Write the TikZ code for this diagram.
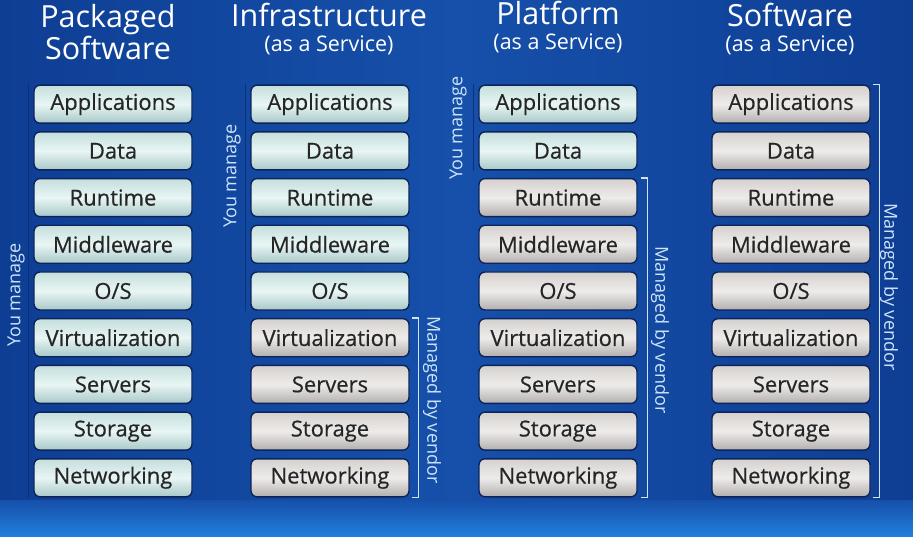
\documentclass[tikz,border=0pt]{standalone}
\usepackage{fontspec}
\setmainfont{Open Sans}
\newfontfamily\boxfont{Open Sans}[FakeBold=0.5]
\definecolor{bgblue}{RGB}{22,80,170}
\definecolor{bgdark}{RGB}{14,62,148}
\definecolor{striplight}{RGB}{34,128,222}
\definecolor{boxline}{RGB}{12,36,88}
\definecolor{usertop}{RGB}{196,222,220}
\definecolor{usermid}{RGB}{232,246,244}
\definecolor{userbot}{RGB}{168,200,200}
\definecolor{vendtop}{RGB}{212,208,206}
\definecolor{vendmid}{RGB}{238,236,234}
\definecolor{vendbot}{RGB}{178,174,174}
\definecolor{labelblue}{RGB}{205,228,248}
\definecolor{youline}{RGB}{14,48,122}
\newcommand{\svcsize}{\fontsize{21.5}{22}\selectfont}
\begin{document}
\begin{tikzpicture}[x=1pt, y=-1pt,
  layer/.style={rounded corners=6pt, minimum width=158pt, minimum height=38pt,
    draw=boxline, line width=1.4pt, text=black!85,
    font=\boxfont\fontsize{22}{22}\selectfont, inner sep=0pt},
  userbox/.style={layer, top color=usertop, bottom color=userbot, middle color=usermid},
  vendorbox/.style={layer, top color=vendtop, bottom color=vendbot, middle color=vendmid},
  heading/.style={text=white, align=center, font=\fontsize{30.5}{30}\selectfont},
  sidetext/.style={text=labelblue, font=\fontsize{18}{19}\selectfont, inner sep=0pt},
  bracket/.style={draw=labelblue, line width=1.3pt},
  youbar/.style={draw=youline, line width=1.6pt}]
  % background
  \useasboundingbox (0,0) rectangle (913,537);
  \shade[left color=bgdark, right color=bgdark, middle color=bgblue] (0,0) rectangle (913,505);
  \shade[top color=bgblue, bottom color=striplight] (0,500) rectangle (913,537);
  % titles
  \node[heading] (t1) at (108,32) {Packaged\\Software};
  \node[heading] (t2) at (329,29) {Infrastructure\\[-5pt]{\svcsize (as a Service)}};
  \node[heading] (t3) at (558,27) {Platform\\[-5pt]{\svcsize (as a Service)}};
  \node[heading] (t4) at (790,29) {Software\\[-5pt]{\svcsize (as a Service)}};
  % stacks
  \foreach \c/\x/\k in {1/113/9, 2/330/5, 3/558/2, 4/791/0} {
    \foreach \r/\t in {1/Applications, 2/Data, 3/Runtime, 4/Middleware, 5/{O/S},
        6/Virtualization, 7/Servers, 8/Storage, 9/Networking} {
      \ifnum\r>\k \def\st{vendorbox}\else\def\st{userbox}\fi
      \node[\st] (c\c r\r) at (\x,{57.5+46.7*\r}) {\t};
    }
  }
  % you manage
  \draw[youbar] ([xshift=-5]c1r1.north west) -- ([xshift=-5]c1r9.south west);
  \draw[youbar] ([xshift=-5]c2r1.north west) -- ([xshift=-5]c2r5.south west);
  \draw[youbar] ([xshift=-5]c3r1.north west) -- ([xshift=-5]c3r2.south west);
  \node[sidetext, rotate=90] (y1) at (16,295) {You manage};
  \node[sidetext, rotate=90] (y2) at (232,176) {You manage};
  \node[sidetext, rotate=90] (y3) at (458,128) {You manage};
  % managed by vendor
  \draw[bracket] ([xshift=2]c2r6.north east) -- ++(7,0) |- ([xshift=2]c2r9.south east);
  \draw[bracket] ([xshift=3]c3r3.north east) -- ++(7,0) |- ([xshift=3]c3r9.south east);
  \draw[bracket] ([xshift=2]c4r1.north east) -- ++(7,0) |- ([xshift=2]c4r9.south east);
  \node[sidetext, rotate=-90] (v2) at (432,400) {Managed by vendor};
  \node[sidetext, rotate=-90] (v3) at (660,330) {Managed by vendor};
  \node[sidetext, rotate=-90] (v4) at (889,287) {Managed by vendor};
\end{tikzpicture}
\end{document}
